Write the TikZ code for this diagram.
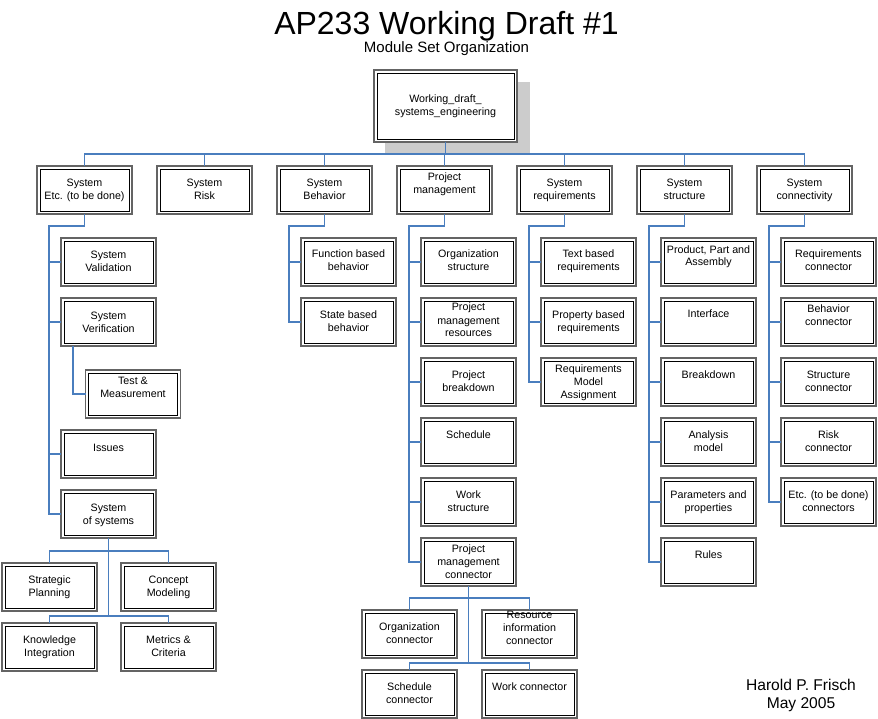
\documentclass[tikz,border=0pt]{standalone}
\usepackage{fontspec}
\setmainfont{Liberation Sans}
\usetikzlibrary{calc}
\definecolor{connc}{RGB}{74,126,190}
\definecolor{outerg}{RGB}{100,100,100}
\definecolor{shadowg}{RGB}{204,204,204}
\tikzset{
  boxshape/.style={draw=outerg, line width=1.4pt, fill=white, minimum width=95pt, minimum height=48pt, inner sep=0pt, outer sep=0pt, anchor=north},
  innerline/.style={draw=black, line width=0.9pt},
  boxtext/.style={font=\fontsize{10.7}{13}\selectfont, align=center, inner sep=0pt, anchor=base},
  connline/.style={draw=connc, line width=1.3pt},
  titletext/.style={inner sep=0pt, anchor=base, align=center},
}
% #1 name, #2 cx, #3 top, #4 first-baseline offset, #5 number of lines, #6 text
\newcommand{\mybox}[6]{%
  \node[boxshape] (#1) at (#2,#3) {};
  \draw[innerline] ($(#1.north west)+(3,3)$) rectangle ($(#1.south east)+(-3,-3)$);
  \pgfmathsetmacro{\myoff}{#4+13*(#5-1)}%
  \node[boxtext] (#1-t) at ($(#1.north)+(0,\myoff)$) {#6};
}
\begin{document}
\begin{tikzpicture}[x=1pt,y=-1pt]
\useasboundingbox (0,0) rectangle (878,719);

% titles
\node[titletext, font=\fontsize{32}{38}\selectfont] (title) at (446.5,35) {AP233 Working Draft \#1};
\node[titletext, font=\fontsize{15}{18}\selectfont] (sub) at (446.5,53) {Module Set Organization};
\node[titletext, font=\fontsize{15.6}{18}\selectfont] (author) at (801,708) {Harold P. Frisch\\May 2005};

% top box with shadow
\fill[shadowg] (385,82) rectangle (530,153);
\node[boxshape, minimum width=143pt, minimum height=72pt] (top) at (445.5,70) {};
\draw[innerline] ($(top.north west)+(3,3)$) rectangle ($(top.south east)+(-3,-3)$);
\node[boxtext, font=\fontsize{10.7}{12.5}\selectfont] (top-t) at ($(top.north)+(0,45.5)$) {Working\_draft\_\\systems\_engineering};

% level 1
\mybox{la}{84.5}{166}{21}{2}{System\\Etc. (to be done)}
\mybox{lb}{204.5}{166}{21}{2}{System\\Risk}
\mybox{lc}{324.5}{166}{21}{2}{System\\Behavior}
\mybox{ld}{444.5}{166}{15}{2}{Project\\management}
\mybox{le}{564.5}{166}{21}{2}{System\\requirements}
\mybox{lf}{684.5}{166}{21}{2}{System\\structure}
\mybox{lg}{804.5}{166}{21}{2}{System\\connectivity}

% children of System Etc.
\mybox{val}{108.5}{238}{21}{2}{System\\Validation}
\mybox{ver}{108.5}{298}{21}{2}{System\\Verification}
\mybox{tm}{133}{370}{14}{2}{Test \&\\Measurement}
\mybox{iss}{108.5}{430}{21}{1}{Issues}
\mybox{sos}{108.5}{490}{21}{2}{System\\of systems}
\mybox{sp}{49.5}{563}{20}{2}{Strategic\\Planning}
\mybox{cm}{168.5}{563}{20}{2}{Concept\\Modeling}
\mybox{ki}{49.5}{623}{20}{2}{Knowledge\\Integration}
\mybox{mc}{168.5}{623}{20}{2}{Metrics \&\\Criteria}

% System Behavior
\mybox{fb}{348.5}{238}{20}{2}{Function based\\behavior}
\mybox{sb}{348.5}{298}{20}{2}{State based\\behavior}

% Project management
\mybox{os}{468.5}{238}{20}{2}{Organization\\structure}
\mybox{pmr}{468.5}{298}{13}{3}{Project\\management\\resources}
\mybox{pb}{468.5}{358}{20}{2}{Project\\breakdown}
\mybox{sch}{468.5}{418}{20}{1}{Schedule}
\mybox{ws}{468.5}{478}{20}{2}{Work\\structure}
\mybox{pmc}{468.5}{538}{14}{3}{Project\\management\\connector}
\mybox{oc}{409.5}{610}{20}{2}{Organization\\connector}
\mybox{ric}{529.5}{610}{8}{3}{Resource\\information\\connector}
\mybox{sc}{409.5}{670}{20}{2}{Schedule\\connector}
\mybox{wc}{529.5}{670}{20}{1}{Work connector}

% System requirements
\mybox{tbr}{588.5}{238}{20}{2}{Text based\\requirements}
\mybox{pbr}{588.5}{298}{20}{2}{Property based\\requirements}
\mybox{rma}{588.5}{358}{14}{3}{Requirements\\Model\\Assignment}

% System structure
\mybox{ppa}{708.5}{238}{15}{2}{Product, Part and\\Assembly}
\mybox{int}{708.5}{298}{20}{1}{Interface}
\mybox{bd}{708.5}{358}{20}{1}{Breakdown}
\mybox{am}{708.5}{418}{20}{2}{Analysis\\model}
\mybox{pp}{708.5}{478}{20}{2}{Parameters and\\properties}
\mybox{rul}{708.5}{538}{20}{1}{Rules}

% System connectivity
\mybox{rc}{828.5}{238}{20}{2}{Requirements\\connector}
\mybox{bc}{828.5}{298}{14}{2}{Behavior\\connector}
\mybox{stc}{828.5}{358}{20}{2}{Structure\\connector}
\mybox{rkc}{828.5}{418}{20}{2}{Risk\\connector}
\mybox{ec}{828.5}{478}{20}{2}{Etc. (to be done)\\connectors}

% connectors: top to level 1
\foreach \n in {la,lb,lc,ld,le,lf,lg}{
  \draw[connline] (top.south) |- ($(\n.north)+(0,-12)$) -- (\n.north);
}

% junctions
\foreach \p in {la,lc,ld,le,lf,lg}{
  \coordinate (\p-j) at ($(\p.south west)+(12,12)$);
}
\foreach \c in {val,ver,iss,sos}{ \draw[connline] (la.south) |- (la-j) |- (\c.west); }
\foreach \c in {fb,sb}{ \draw[connline] (lc.south) |- (lc-j) |- (\c.west); }
\foreach \c in {os,pmr,pb,sch,ws,pmc}{ \draw[connline] (ld.south) |- (ld-j) |- (\c.west); }
\foreach \c in {tbr,pbr,rma}{ \draw[connline] (le.south) |- (le-j) |- (\c.west); }
\foreach \c in {ppa,int,bd,am,pp,rul}{ \draw[connline] (lf.south) |- (lf-j) |- (\c.west); }
\foreach \c in {rc,bc,stc,rkc,ec}{ \draw[connline] (lg.south) |- (lg-j) |- (\c.west); }

% verification -> test & measurement
\coordinate (ver-j) at ($(ver.south west)+(12,0)$);
\draw[connline] (ver-j) |- (tm.west);

% system of systems children
\foreach \c in {sp,cm}{ \draw[connline] (sos.south) |- ($(\c.north)+(0,-12)$) -- (\c.north); }
\foreach \c in {ki,mc}{ \draw[connline] (sos.south) |- ($(\c.north)+(0,-7)$) -- (\c.north); }

% project management connector children
\foreach \c in {oc,ric}{ \draw[connline] (pmc.south) |- ($(\c.north)+(0,-12)$) -- (\c.north); }
\foreach \c in {sc,wc}{ \draw[connline] (pmc.south) |- ($(\c.north)+(0,-7)$) -- (\c.north); }

\end{tikzpicture}
\end{document}
